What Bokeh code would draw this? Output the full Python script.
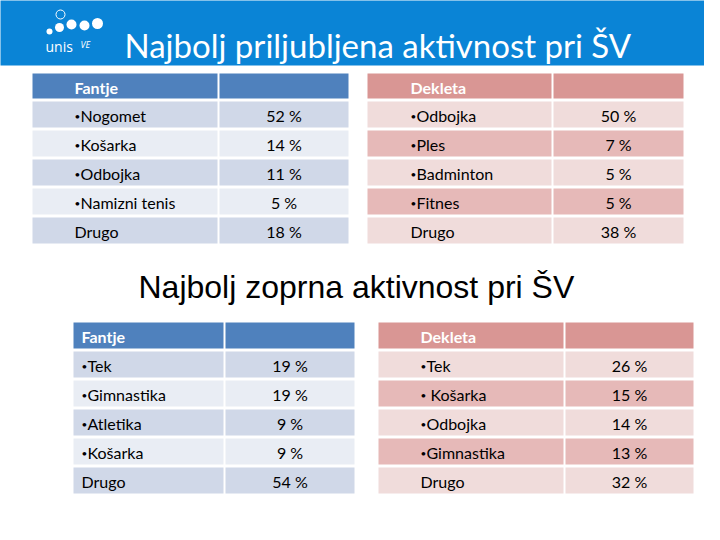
from bokeh.plotting import figure
from bokeh.models import Range1d, ColumnDataSource
from bokeh.core.properties import value
from bokeh.embed import file_html
from bokeh.resources import INLINE

# ---------------- data ----------------
title_top = "Najbolj priljubljena aktivnost pri ŠV"
title_bottom = "Najbolj zoprna aktivnost pri ŠV"
header_boys = "Fantje"
header_girls = "Dekleta"

top_boys_labels = ["•Nogomet", "•Košarka", "•Odbojka", "•Namizni tenis", "Drugo"]
top_boys_values = [52, 14, 11, 5, 18]
top_girls_labels = ["•Odbojka", "•Ples", "•Badminton", "•Fitnes", "Drugo"]
top_girls_values = [50, 7, 5, 5, 38]

bottom_boys_labels = ["•Tek", "•Gimnastika", "•Atletika", "•Košarka", "Drugo"]
bottom_boys_values = [19, 19, 9, 9, 54]
bottom_girls_labels = ["•Tek", "• Košarka", "•Odbojka", "•Gimnastika", "Drugo"]
bottom_girls_values = [26, 15, 14, 13, 32]

# ---------------- styles ----------------
BAR_BLUE = "#0A84D6"
BLUE_HEAD, BLUE_DARK, BLUE_LIGHT = "#4F81BD", "#D0D8E8", "#E9EDF4"
PINK_HEAD, PINK_LIGHT, PINK_DARK = "#D99694", "#F0DCDB", "#E6B9B8"
FONT = "Lato"

p = figure(width=704, height=524, output_backend="svg", toolbar_location=None,
           x_range=Range1d(0, 704), y_range=Range1d(524, 0),
           min_border=0)
p.axis.visible = False
p.grid.visible = False
p.outline_line_color = None
p.background_fill_color = "white"
p.border_fill_color = "white"

# title bar
p.quad(left=[-10], right=[718], top=[-10], bottom=[65], fill_color=BAR_BLUE, line_color=None)
p.text(x=[124], y=[44], text=[title_top], text_font=value(FONT), text_font_size="33px",
       text_color="white", text_baseline="middle", text_align="left")

# logo
p.scatter(x=[60], y=[14], size=9, marker="circle", fill_color=None, line_color="white", line_width=1)
p.scatter(x=[49, 59, 71, 84, 97], y=[31, 27, 24, 25, 23], size=[6, 9, 10, 10, 11],
          marker="circle", fill_color="white", line_color=None)
p.text(x=[45], y=[46], text=["unis"], text_font=value("Open Sans"), text_font_size="14px",
       text_color="white", text_baseline="middle")
p.text(x=[80], y=[44], text=["VE"], text_font=value("Open Sans"), text_font_size="9px",
       text_color="white", text_font_style="italic", text_baseline="middle")

# second title
p.text(x=[138], y=[286], text=[title_bottom], text_font=value("Liberation Sans"),
       text_font_size="32px", text_color="black", text_baseline="middle")


def draw_table(left, split, right, header_top, header_h, labels, values_, header,
               head_col, odd_col, even_col, pad):
    gap = 3
    row_h = 26
    lefts = [left, split + 1]
    rights = [split - 1, right]
    tops = [header_top, header_top]
    bottoms = [header_top + header_h, header_top + header_h]
    fills = [head_col, head_col]
    first = header_top + header_h + gap
    for i in range(len(labels)):
        t = first + i * (row_h + gap)
        c = odd_col if i % 2 == 0 else even_col
        for l, r in ((left, split - 1), (split + 1, right)):
            lefts.append(l); rights.append(r); tops.append(t); bottoms.append(t + row_h)
            fills.append(c)
    src = ColumnDataSource(dict(left=lefts, right=rights, top=tops, bottom=bottoms, fill=fills))
    p.quad(left="left", right="right", top="top", bottom="bottom", fill_color="fill",
           line_color=None, source=src)
    p.text(x=[left + pad], y=[header_top + header_h / 2 + 1], text=[header],
           text_font=value(FONT), text_font_size="16px", text_font_style="bold",
           text_color="white", text_baseline="middle")
    ys = [first + i * (row_h + gap) + row_h / 2 + 1 for i in range(len(labels))]
    bx, by, words_x, words = [], [], [], []
    for lab, y in zip(labels, ys):
        if lab.startswith("•"):
            rest = lab[1:]
            bx.append(left + pad); by.append(y)
            words_x.append(left + pad + 6 + (4 if rest.startswith(" ") else 0))
            words.append(rest.strip())
        else:
            words_x.append(left + pad)
            words.append(lab)
    p.text(x=bx, y=by, text=["•"] * len(bx), text_font=value(FONT),
           text_font_size="10px", text_color="black", text_baseline="middle")
    p.text(x=words_x, y=ys, text=words, text_font=value(FONT),
           text_font_size="16px", text_color="black", text_baseline="middle")
    cx = (split + 1 + right) / 2
    p.text(x=[cx] * len(values_), y=ys, text=[f"{v} %" for v in values_],
           text_font=value(FONT), text_font_size="16px", text_color="black",
           text_baseline="middle", text_align="center")


draw_table(32, 218, 348, 73, 25, top_boys_labels, top_boys_values, header_boys,
           BLUE_HEAD, BLUE_DARK, BLUE_LIGHT, 42)
draw_table(367, 552, 683, 73, 25, top_girls_labels, top_girls_values, header_girls,
           PINK_HEAD, PINK_LIGHT, PINK_DARK, 43)
draw_table(73, 224, 354, 322, 26, bottom_boys_labels, bottom_boys_values, header_boys,
           BLUE_HEAD, BLUE_DARK, BLUE_LIGHT, 8)
draw_table(378, 564, 693, 322, 26, bottom_girls_labels, bottom_girls_values, header_girls,
           PINK_HEAD, PINK_LIGHT, PINK_DARK, 42)

open("out.html", "w").write(file_html(p, INLINE))
